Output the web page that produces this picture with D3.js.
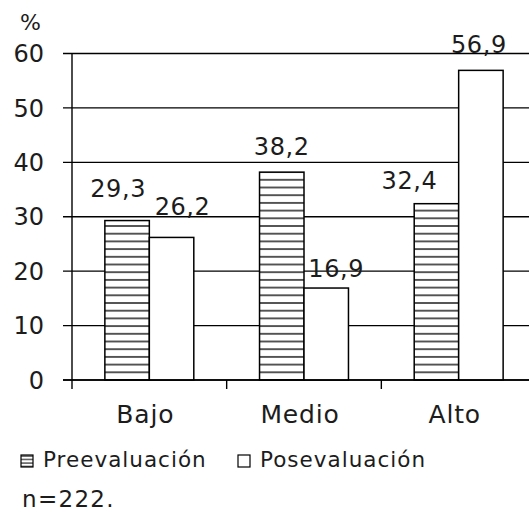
<!DOCTYPE html>
<html>
<head>
<meta charset="utf-8">
<script src="https://cdn.jsdelivr.net/npm/d3@7"></script>
<style>
  html, body { margin: 0; padding: 0; background: #fff; }
  svg { display: block; font-family: "DejaVu Sans", Verdana, sans-serif; }
</style>
</head>
<body>
<svg id="chart" width="529" height="512"></svg>
<script>
// Nivel de conocimiento (%) antes y después de la intervención
const categories = ["Bajo", "Medio", "Alto"];
const series = ["Preevaluación", "Posevaluación"];
const preValues = [29.3, 38.2, 32.4];
const postValues = [26.2, 16.9, 56.9];
const yTicks = [0, 10, 20, 30, 40, 50, 60];
const sampleNote = "n=222.";

// Hand-placed value labels: offset [dx, dy] from the top centre of each bar
const labelNudge = {
  "Preevaluación": [[-9, -24], [0, -17], [-27, -15]],
  "Posevaluación": [[11, -22], [10, -11], [-2, -17]]
};

const svg = d3.select("#chart");
const ink = "#1c1c1c";

const plotLeft = 72, plotRight = 536, plotBottom = 380, plotTop = 53.5;

const x0 = d3.scaleBand().domain(categories).range([plotLeft, plotRight]).padding(0);
const groupW = x0.bandwidth() * 0.575;
const x1 = d3.scaleBand().domain(series).range([0, groupW]).padding(0);
const y = d3.scaleLinear().domain([0, 60]).range([plotBottom, plotTop]);

const rows = categories.map((c, i) => ({
  cat: c,
  vals: [
    { s: series[0], v: preValues[i], i },
    { s: series[1], v: postValues[i], i }
  ]
}));

// Horizontal hatch used for Preevaluación
const defs = svg.append("defs");
const step = 7.7;
const hatch = defs.append("pattern")
  .attr("id", "hatch")
  .attr("patternUnits", "userSpaceOnUse")
  .attr("x", 0).attr("y", plotBottom - step * 0.5)
  .attr("width", 10).attr("height", step);
hatch.append("rect").attr("width", 10).attr("height", step).attr("fill", "#fff");
hatch.append("line")
  .attr("x1", 0).attr("x2", 10)
  .attr("y1", step * 0.5).attr("y2", step * 0.5)
  .attr("stroke", "#000").attr("stroke-width", 1.3);

const hatchSmall = defs.append("pattern")
  .attr("id", "hatchSmall")
  .attr("patternUnits", "userSpaceOnUse")
  .attr("x", 0).attr("y", 0)
  .attr("width", 10).attr("height", 3.5);
hatchSmall.append("rect").attr("width", 10).attr("height", 3.5).attr("fill", "#fff");
hatchSmall.append("line")
  .attr("x1", 0).attr("x2", 10).attr("y1", 1).attr("y2", 1)
  .attr("stroke", "#000").attr("stroke-width", 1);

// Gridlines and y ticks
const yAxis = svg.append("g");
yAxis.selectAll("line.grid")
  .data(yTicks)
  .join("line")
  .attr("class", "grid")
  .attr("x1", plotLeft - 9).attr("x2", 529)
  .attr("y1", d => y(d)).attr("y2", d => y(d))
  .attr("stroke", "#000").attr("stroke-width", 1.3);

yAxis.selectAll("text")
  .data(yTicks)
  .join("text")
  .attr("x", 44)
  .attr("y", d => y(d))
  .attr("dy", "0.36em")
  .attr("text-anchor", "end")
  .attr("font-size", 24)
  .attr("fill", ink)
  .text(d => d);

svg.append("text")
  .attr("x", 20).attr("y", 30)
  .attr("font-size", 22)
  .attr("fill", ink)
  .text("%");

// Bars
const groups = svg.append("g").selectAll("g")
  .data(rows)
  .join("g")
  .attr("transform", d => `translate(${x0(d.cat) + (x0.bandwidth() - groupW) / 2},0)`);

groups.selectAll("rect")
  .data(d => d.vals)
  .join("rect")
  .attr("x", d => x1(d.s))
  .attr("y", d => y(d.v))
  .attr("width", x1.bandwidth())
  .attr("height", d => y(0) - y(d.v))
  .attr("fill", d => d.s === series[0] ? "url(#hatch)" : "#fff")
  .attr("stroke", "#000")
  .attr("stroke-width", 1.5);

groups.selectAll("text")
  .data(d => d.vals)
  .join("text")
  .attr("x", d => x1(d.s) + x1.bandwidth() / 2 + labelNudge[d.s][d.i][0])
  .attr("y", d => y(d.v) + labelNudge[d.s][d.i][1])
  .attr("text-anchor", "middle")
  .attr("font-size", 24)
  .attr("letter-spacing", 0.6)
  .attr("fill", ink)
  .text(d => d3.format(".1f")(d.v).replace(".", ","));

// Axis lines
svg.append("line")
  .attr("x1", plotLeft).attr("x2", plotLeft)
  .attr("y1", plotTop).attr("y2", plotBottom + 9)
  .attr("stroke", "#000").attr("stroke-width", 1.4);
svg.append("line")
  .attr("x1", plotLeft - 9).attr("x2", 529)
  .attr("y1", plotBottom).attr("y2", plotBottom)
  .attr("stroke", "#000").attr("stroke-width", 1.5);

// Category separators below the baseline
svg.append("g").selectAll("line")
  .data(categories.slice(1))
  .join("line")
  .attr("x1", d => x0(d)).attr("x2", d => x0(d))
  .attr("y1", plotBottom).attr("y2", plotBottom + 9)
  .attr("stroke", "#000").attr("stroke-width", 1.4);

svg.append("g").selectAll("text")
  .data(categories)
  .join("text")
  .attr("x", d => x0(d) + x0.bandwidth() / 2 - 4)
  .attr("y", 423)
  .attr("text-anchor", "middle")
  .attr("font-size", 25)
  .attr("letter-spacing", 0.8)
  .attr("fill", ink)
  .text(d => d);

// Legend
const legendX = [21, 238];
const legend = svg.append("g").selectAll("g")
  .data(series)
  .join("g")
  .attr("transform", (d, i) => `translate(${legendX[i]},455)`);
legend.append("rect")
  .attr("width", 12).attr("height", 12)
  .attr("fill", (d, i) => i === 0 ? "url(#hatchSmall)" : "#fff")
  .attr("stroke", "#000").attr("stroke-width", 1.2);
legend.append("text")
  .attr("x", 22).attr("y", 12)
  .attr("font-size", 21.5)
  .attr("letter-spacing", 1)
  .attr("fill", ink)
  .text(d => d);

svg.append("text")
  .attr("x", 22).attr("y", 507)
  .attr("font-size", 23)
  .attr("letter-spacing", 1.3)
  .attr("fill", ink)
  .text(sampleNote);
</script>
</body>
</html>
